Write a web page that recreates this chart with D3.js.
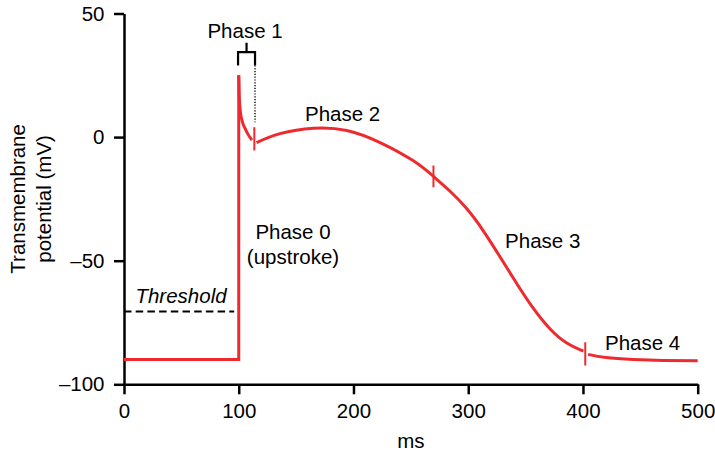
<!DOCTYPE html>
<html>
<head>
<meta charset="utf-8">
<script src="https://cdn.jsdelivr.net/npm/d3@7"></script>
<style>
  html, body { margin: 0; padding: 0; background: #fff; }
  svg { display: block; }
  text { font-family: "Liberation Sans", Arial, Helvetica, sans-serif; fill: #000; }
</style>
</head>
<body>
<svg id="chart" width="715" height="452"></svg>
<script>
// ---- data ----
const msTicks = [0, 100, 200, 300, 400, 500];
const mvTicks = [-100, -50, 0, 50];

// Phase 4 rest + Phase 0 upstroke
const restMs = [0, 100, 100];
const restMv = [-90, -90, 25];

// Phase 1 (early repolarisation)
const phase1Ms = [100, 100.5, 101.5, 103, 105.5, 108, 111.5];
const phase1Mv = [25, 16, 10, 6.5, 3.5, 1.2, -1.2];

// Phase 2 plateau + Phase 3 repolarisation
const plateauMs = [115.5, 136, 165, 194.2, 223.2, 252.2, 269.7,
                   284.2, 298.8, 313.3, 327.8, 342.4, 356.8, 371.4, 385.9, 400.4];
const plateauMv = [-2.2, 1.4, 3.6, 2.7, -2.2, -9.6, -15.9,
                   -21.9, -29.0, -38.0, -48.5, -59.3, -69.3, -77.6, -83.3, -86.6];

// Phase 4 after repolarisation
const phase4Ms = [404.5, 420, 444, 470, 500];
const phase4Mv = [-87.9, -89.2, -90, -90.4, -90.5];

// phase boundary marks (ms, low mV, high mV)
const markMs = [113.6, 269.7, 402];
const markLo = [-5.4, -20.3, -92.4];
const markHi = [4, -11.5, -83];

// threshold
const thresholdMs = [0, 96];
const thresholdMv = -70.5;

// labels
const labelText = ["Phase 1", "Phase 2", "Phase 0", "(upstroke)", "Phase 3", "Phase 4"];
const labelMs = [105.5, 190.5, 147.3, 147.3, 364.9, 452];
const labelMv = [39.9, 6.6, -41.2, -51.3, -44.7, -86];

// Phase 1 bracket (ms left/right, mV levels)
const bracketMs = [99.4, 114.2];
const bracketTopMv = 34.4, bracketEndMv = 29, bracketStemMv = 38.2, dottedEndMv = 6;

// ---- chart ----
const svg = d3.select("#chart");
const x = d3.scaleLinear().domain([0, 500]).range([124, 697.7]);
const y = d3.scaleLinear().domain([-100, 50]).range([384.3, 13.5]);
const red = "#ee2a2e";
const FS = 20.5;

const xAxis = svg.append("g").attr("transform", `translate(0,${y(-100)})`)
  .call(d3.axisBottom(x).tickValues(msTicks).tickSize(10).tickSizeOuter(0).tickPadding(9.5));
const yAxis = svg.append("g").attr("transform", `translate(${x(0)},0)`)
  .call(d3.axisLeft(y).tickValues(mvTicks).tickSize(10).tickSizeOuter(0).tickPadding(9.5)
    .tickFormat(d => d < 0 ? "\u2013" + Math.abs(d) : String(d)));
[xAxis, yAxis].forEach(g => {
  g.selectAll("path, line").attr("stroke", "#000").attr("stroke-width", 2.5);
  g.selectAll("text").attr("font-size", FS).attr("font-family", '"Liberation Sans", Arial, sans-serif');
});

svg.append("text").attr("x", (x(0) + x(500)) / 2).attr("y", 447.5)
  .attr("text-anchor", "middle").attr("font-size", FS).text("ms");
const yMid = (y(50) + y(-100)) / 2;
svg.append("text").attr("transform", `translate(25,${yMid}) rotate(-90)`)
  .attr("text-anchor", "middle").attr("font-size", FS).text("Transmembrane");
svg.append("text").attr("transform", `translate(50.5,${yMid}) rotate(-90)`)
  .attr("text-anchor", "middle").attr("font-size", FS).text("potential (mV)");

// threshold dashed line
svg.append("line")
  .attr("x1", x(thresholdMs[0])).attr("x2", x(thresholdMs[1]))
  .attr("y1", y(thresholdMv)).attr("y2", y(thresholdMv))
  .attr("stroke", "#000").attr("stroke-width", 2).attr("stroke-dasharray", "7.5,4.2");
svg.append("text").attr("x", x(49.7)).attr("y", y(-67.2))
  .attr("text-anchor", "middle").attr("font-size", FS).attr("font-style", "italic").text("Threshold");

// curves
const lin = d3.line().x(d => x(d[0])).y(d => y(d[1]));
const smooth = d3.line().x(d => x(d[0])).y(d => y(d[1])).curve(d3.curveMonotoneX);
const natural = d3.line().x(d => x(d[0])).y(d => y(d[1])).curve(d3.curveNatural);
const zip = (a, b) => a.map((v, i) => [v, b[i]]);

svg.append("path").attr("d", lin(zip(restMs, restMv)))
  .attr("fill", "none").attr("stroke", red).attr("stroke-width", 3).attr("stroke-linejoin", "miter");
svg.append("path").attr("d", smooth(zip(phase1Ms, phase1Mv)))
  .attr("fill", "none").attr("stroke", red).attr("stroke-width", 3);
svg.append("path").attr("d", natural(zip(plateauMs, plateauMv)))
  .attr("fill", "none").attr("stroke", red).attr("stroke-width", 3);
svg.append("path").attr("d", natural(zip(phase4Ms, phase4Mv)))
  .attr("fill", "none").attr("stroke", red).attr("stroke-width", 3);

// phase marks
svg.selectAll("line.mark").data(markMs).enter().append("line").attr("class", "mark")
  .attr("x1", d => x(d)).attr("x2", d => x(d))
  .attr("y1", (d, i) => y(markLo[i])).attr("y2", (d, i) => y(markHi[i]))
  .attr("stroke", red).attr("stroke-width", 2);

// Phase 1 bracket
const bp = d3.path();
bp.moveTo(x(bracketMs[0]), y(bracketEndMv));
bp.lineTo(x(bracketMs[0]), y(bracketTopMv));
bp.lineTo(x(bracketMs[1]), y(bracketTopMv));
bp.lineTo(x(bracketMs[1]), y(bracketEndMv));
bp.moveTo(x((bracketMs[0] + bracketMs[1]) / 2), y(bracketTopMv));
bp.lineTo(x((bracketMs[0] + bracketMs[1]) / 2), y(bracketStemMv));
svg.append("path").attr("d", bp.toString()).attr("fill", "none")
  .attr("stroke", "#000").attr("stroke-width", 2.2);
svg.append("line")
  .attr("x1", x(bracketMs[1])).attr("x2", x(bracketMs[1]))
  .attr("y1", y(bracketEndMv)).attr("y2", y(dottedEndMv))
  .attr("stroke", "#000").attr("stroke-width", 1.4).attr("stroke-dasharray", "1.2,1.6");

// labels
svg.selectAll("text.lbl").data(labelText).enter().append("text").attr("class", "lbl")
  .attr("x", (d, i) => x(labelMs[i])).attr("y", (d, i) => y(labelMv[i]))
  .attr("text-anchor", "middle").attr("font-size", FS).text(d => d);
</script>
</body>
</html>
